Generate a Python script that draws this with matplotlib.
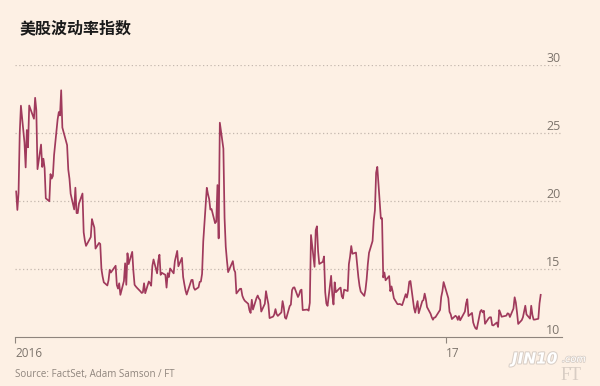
import pandas as pd
import matplotlib.pyplot as plt
import matplotlib.patheffects as pe
import matplotlib.transforms as mtransforms

# VIX daily closes (Jan 2016 - Mar 2017)
dates_2016 = [
    '01-04', '01-05', '01-06', '01-07', '01-08', '01-11', '01-12', '01-13', '01-14', '01-15',
    '01-19', '01-20', '01-21', '01-22', '01-25', '01-26', '01-27', '01-28', '01-29',
    '02-01', '02-02', '02-03', '02-04', '02-05', '02-08', '02-09', '02-10', '02-11', '02-12',
    '02-16', '02-17', '02-18', '02-19', '02-22', '02-23', '02-24', '02-25', '02-26', '02-29',
    '03-01', '03-02', '03-03', '03-04', '03-07', '03-08', '03-09', '03-10', '03-11', '03-14',
    '03-15', '03-16', '03-17', '03-18', '03-21', '03-22', '03-23', '03-24', '03-28', '03-29',
    '03-30', '03-31',
    '04-01', '04-04', '04-05', '04-06', '04-07', '04-08', '04-11', '04-12', '04-13', '04-14',
    '04-15', '04-18', '04-19', '04-20', '04-21', '04-22', '04-25', '04-26', '04-27', '04-28',
    '04-29',
    '05-02', '05-03', '05-04', '05-05', '05-06', '05-09', '05-10', '05-11', '05-12', '05-13',
    '05-16', '05-17', '05-18', '05-19', '05-20', '05-23', '05-24', '05-25', '05-26', '05-27',
    '05-31',
    '06-01', '06-02', '06-03', '06-06', '06-07', '06-08', '06-09', '06-10', '06-13', '06-14',
    '06-15', '06-16', '06-17', '06-20', '06-21', '06-22', '06-23', '06-24', '06-27', '06-28',
    '06-29', '06-30',
    '07-01', '07-05', '07-06', '07-07', '07-08', '07-11', '07-12', '07-13', '07-14', '07-15',
    '07-18', '07-19', '07-20', '07-21', '07-22', '07-25', '07-26', '07-27', '07-28', '07-29',
    '08-01', '08-02', '08-03', '08-04', '08-05', '08-08', '08-09', '08-10', '08-11', '08-12',
    '08-15', '08-16', '08-17', '08-18', '08-19', '08-22', '08-23', '08-24', '08-25', '08-26',
    '08-29', '08-30', '08-31',
    '09-01', '09-02', '09-06', '09-07', '09-08', '09-09', '09-12', '09-13', '09-14', '09-15',
    '09-16', '09-19', '09-20', '09-21', '09-22', '09-23', '09-26', '09-27', '09-28', '09-29',
    '09-30',
    '10-03', '10-04', '10-05', '10-06', '10-07', '10-10', '10-11', '10-12', '10-13', '10-14',
    '10-17', '10-18', '10-19', '10-20', '10-21', '10-24', '10-25', '10-26', '10-27', '10-28',
    '10-31',
    '11-01', '11-02', '11-03', '11-04', '11-07', '11-08', '11-09', '11-10', '11-11', '11-14',
    '11-15', '11-16', '11-17', '11-18', '11-21', '11-22', '11-23', '11-25', '11-28', '11-29',
    '11-30',
    '12-01', '12-02', '12-05', '12-06', '12-07', '12-08', '12-09', '12-12', '12-13', '12-14',
    '12-15', '12-16', '12-19', '12-20', '12-21', '12-22', '12-23', '12-27', '12-28', '12-29',
    '12-30',
]
vix_2016 = [
    20.70, 19.34, 20.59, 24.99, 27.01, 24.30, 22.47, 25.22, 23.95, 27.02,
    26.05, 27.59, 26.69, 22.34, 24.15, 22.50, 23.11, 22.42, 20.20,
    19.98, 21.98, 21.65, 21.84, 23.38, 26.00, 26.54, 26.29, 28.14, 25.40,
    24.11, 22.31, 21.64, 20.53, 19.38, 20.98, 19.11, 19.11, 19.81, 20.55,
    17.70, 17.09, 16.70, 16.86, 17.35, 18.67, 18.34, 18.05, 16.50, 16.92,
    16.84, 14.99, 14.44, 14.02, 13.79, 14.17, 14.94, 14.74, 15.24, 13.82,
    13.56, 13.95,
    13.10, 14.12, 15.42, 13.84, 16.16, 15.36, 16.26, 14.85, 13.84, 13.72,
    13.62, 13.35, 13.24, 13.28, 13.95, 13.22, 14.08, 13.96, 13.77, 15.22,
    15.70,
    14.68, 15.60, 16.05, 14.57, 14.72, 14.57, 13.63, 14.69, 14.41, 15.04,
    14.68, 15.57, 15.95, 16.33, 15.20, 15.82, 14.42, 13.90, 13.43, 13.12,
    14.19,
    14.20, 13.63, 13.47, 13.65, 14.05, 14.08, 14.64, 17.03, 20.97, 20.50,
    20.14, 19.37, 19.41, 18.37, 18.48, 21.17, 17.25, 25.76, 23.85, 18.75,
    16.64, 15.63,
    14.77, 15.58, 14.96, 14.76, 13.20, 13.54, 13.55, 13.04, 12.82, 12.67,
    12.44, 11.97, 11.77, 12.74, 12.02, 12.87, 13.05, 12.83, 12.72, 11.87,
    12.44, 13.37, 12.86, 12.42, 11.39, 11.50, 11.66, 12.05, 11.68, 11.55,
    11.81, 12.64, 12.19, 11.43, 11.34, 12.27, 12.38, 13.45, 13.63, 13.65,
    12.94, 13.12, 13.42,
    13.48, 11.98, 12.02, 11.94, 12.51, 17.50, 15.16, 17.85, 18.14, 16.30,
    15.37, 15.53, 15.92, 13.30, 12.45, 12.29, 14.50, 13.10, 12.39, 14.02,
    13.29,
    13.57, 13.63, 12.99, 12.84, 13.48, 13.38, 15.36, 15.91, 16.69, 16.12,
    16.21, 15.28, 14.41, 13.75, 13.34, 13.02, 13.46, 14.24, 15.36, 16.19,
    17.06,
    18.56, 19.32, 22.08, 22.51, 18.71, 18.74, 14.38, 14.74, 14.17, 14.48,
    13.37, 13.72, 13.35, 12.85, 12.42, 12.41, 12.43, 12.34, 13.15, 12.90,
    13.33,
    14.07, 14.12, 12.14, 11.79, 12.22, 12.64, 11.75, 12.64, 12.72, 13.19,
    12.79, 12.20, 11.71, 11.45, 11.27, 11.43, 11.44, 11.99, 12.95, 13.37,
    14.04,
]
dates_2017 = [
    '01-03', '01-04', '01-05', '01-06', '01-09', '01-10', '01-11', '01-12', '01-13', '01-17',
    '01-18', '01-19', '01-20', '01-23', '01-24', '01-25', '01-26', '01-27', '01-30', '01-31',
    '02-01', '02-02', '02-03', '02-06', '02-07', '02-08', '02-09', '02-10', '02-13', '02-14',
    '02-15', '02-16', '02-17', '02-21', '02-22', '02-23', '02-24', '02-27', '02-28',
    '03-01', '03-02', '03-03', '03-06', '03-07', '03-08', '03-09', '03-10', '03-13', '03-14',
    '03-15', '03-16', '03-17', '03-20', '03-21', '03-22',
]
vix_2017 = [
    12.85, 11.85, 11.67, 11.32, 11.56, 11.49, 11.26, 11.54, 11.23, 11.87,
    12.48, 12.78, 11.54, 11.77, 11.07, 10.81, 10.63, 10.58, 11.88, 11.99,
    11.81, 11.93, 10.97, 11.37, 11.45, 11.45, 10.88, 10.85, 11.07, 10.74,
    11.97, 11.76, 11.49, 11.57, 11.74, 11.71, 11.47, 12.09, 12.92,
    12.54, 11.81, 10.96, 11.24, 11.45, 11.86, 12.30, 11.66, 11.35, 12.30,
    11.63, 11.28, 11.28, 11.34, 12.47, 13.10,
]
y_ticks = [10, 15, 20, 25, 30]
x_tick_dates = ['2016-01-03', '2017-01-01']
x_tick_labels = ['2016', '17']

dates = pd.to_datetime(['2016-' + d for d in dates_2016] + ['2017-' + d for d in dates_2017])
vix = vix_2016 + vix_2017

bg = '#fdf0e4'
grey = '#7d746c'

fig = plt.figure(figsize=(6.0, 3.86), dpi=100, facecolor=bg)
ax = fig.add_axes([15 / 600, 49 / 386, 547 / 600, 272 / 386], facecolor=bg)

ax.plot(dates, vix, color='#a03a5c', linewidth=1.25, zorder=3)

ax.set_ylim(10, 30)
ax.set_xlim(pd.Timestamp('2016-01-03'), pd.Timestamp('2017-04-09'))

for v in y_ticks[1:]:
    ax.axhline(v, color='#c4b8ae', linewidth=0.9, linestyle=(0, (1, 2)), zorder=1)

# y labels sit on the right, just above each gridline
trans = mtransforms.blended_transform_factory(ax.transAxes, ax.transData)
for v in y_ticks:
    ax.text(0.997, v, str(v), transform=trans, ha='right', va='bottom',
            fontsize=9, color=grey, family='Open Sans')
ax.set_yticks([])

for s in ['top', 'right', 'left']:
    ax.spines[s].set_visible(False)
ax.spines['bottom'].set_color('#8f857d')
ax.spines['bottom'].set_linewidth(0.8)

ax.set_xticks(pd.to_datetime(x_tick_dates))
ax.set_xticklabels(x_tick_labels, ha='left', fontsize=8.5, color=grey, family='Open Sans')
ax.tick_params(axis='x', direction='out', length=4, width=0.8, color='#8f857d', pad=3)

fig.text(20 / 600, 1 - 28 / 386, '美股波动率指数', fontsize=11.5, fontweight='bold',
         color='#1a1a1a', va='center', ha='left',
         family=['Noto Sans CJK SC', 'DejaVu Sans'])
fig.text(15 / 600, 1 - 374 / 386, 'Source: FactSet, Adam Samson / FT', fontsize=7,
         color='#8f857d', va='center', ha='left', family='Open Sans')

# faint watermark in the lower right corner
fig.text(512 / 600, 1 - 359 / 386, 'JIN10', fontsize=11, fontweight='bold', style='italic',
         color='white', va='center', ha='left', family='DejaVu Sans',
         path_effects=[pe.withStroke(linewidth=1.5, foreground='#d9cfc7')])
fig.text(562 / 600, 1 - 359 / 386, '.com', fontsize=7, style='italic',
         color='white', va='center', ha='left', family='DejaVu Sans',
         path_effects=[pe.withStroke(linewidth=1.2, foreground='#d9cfc7')])
fig.text(571 / 600, 1 - 376 / 386, 'FT', fontsize=13, color='#d8cdc4',
         va='center', ha='center', family='Liberation Serif')

fig.savefig('out.png', dpi=100, facecolor=bg)
